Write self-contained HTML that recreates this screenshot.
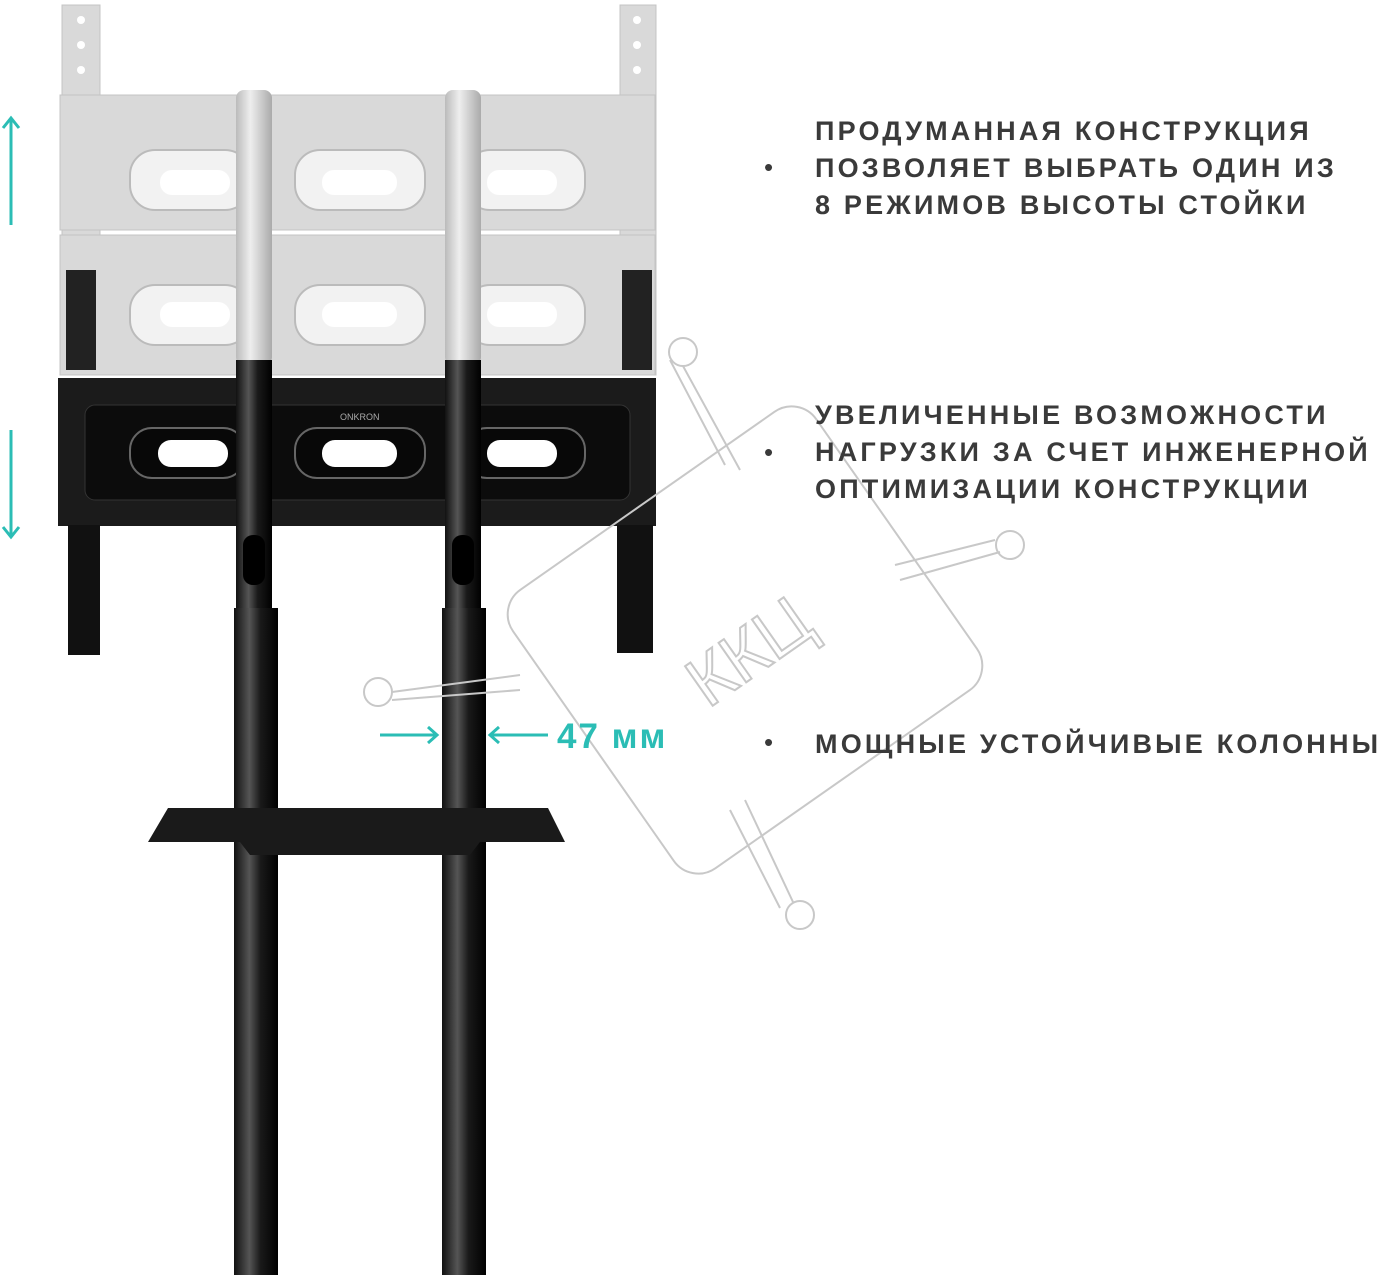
<!DOCTYPE html>
<html><head><meta charset="utf-8"><style>
body{margin:0;background:#fff;width:1388px;height:1275px;overflow:hidden;font-family:"Liberation Sans",sans-serif}
.t{position:absolute;left:815px;font-size:27px;letter-spacing:3.2px;color:#3a3a3a;line-height:37px;font-weight:bold;white-space:nowrap}
.b{position:absolute;left:764px;font-size:26px;color:#3a3a3a}
</style></head><body>
<svg width="1388" height="1275" style="position:absolute;left:0;top:0">
<defs>
<linearGradient id="pb" x1="0" x2="1"><stop offset="0" stop-color="#111"/><stop offset=".35" stop-color="#555"/><stop offset=".6" stop-color="#1a1a1a"/><stop offset="1" stop-color="#000"/></linearGradient>
<linearGradient id="pg" x1="0" x2="1"><stop offset="0" stop-color="#bbb"/><stop offset=".4" stop-color="#eee"/><stop offset="1" stop-color="#aaa"/></linearGradient>
</defs>
<g fill="#d9d9d9" stroke="#c4c4c4">
<rect x="62" y="5" width="38" height="370"/><rect x="620" y="5" width="36" height="370"/>
<rect x="60" y="95" width="595" height="135"/><rect x="60" y="235" width="595" height="140"/>
</g>
<g fill="#fff"><circle cx="81" cy="20" r="4"/><circle cx="81" cy="45" r="4"/><circle cx="81" cy="70" r="4"/><circle cx="637" cy="20" r="4"/><circle cx="637" cy="45" r="4"/><circle cx="637" cy="70" r="4"/></g>
<g fill="#f2f2f2" stroke="#bbb" stroke-width="2">
<rect x="130" y="150" width="120" height="60" rx="25"/><rect x="295" y="150" width="130" height="60" rx="25"/><rect x="465" y="150" width="120" height="60" rx="25"/>
<rect x="130" y="285" width="120" height="60" rx="25"/><rect x="295" y="285" width="130" height="60" rx="25"/><rect x="465" y="285" width="120" height="60" rx="25"/>
</g>
<g fill="#fff"><rect x="160" y="170" width="70" height="25" rx="12"/><rect x="322" y="170" width="75" height="25" rx="12"/><rect x="487" y="170" width="70" height="25" rx="12"/>
<rect x="160" y="302" width="70" height="25" rx="12"/><rect x="322" y="302" width="75" height="25" rx="12"/><rect x="487" y="302" width="70" height="25" rx="12"/></g>
<rect x="66" y="270" width="30" height="100" fill="#222"/><rect x="622" y="270" width="30" height="100" fill="#222"/>
<rect x="58" y="378" width="598" height="148" fill="#1b1b1b"/>
<rect x="85" y="405" width="545" height="95" rx="10" fill="#0c0c0c" stroke="#333"/>
<g fill="#080808" stroke="#666" stroke-width="2"><rect x="130" y="428" width="115" height="50" rx="22"/><rect x="295" y="428" width="130" height="50" rx="22"/><rect x="465" y="428" width="120" height="50" rx="22"/></g>
<g fill="#fff"><rect x="158" y="440" width="70" height="27" rx="13"/><rect x="322" y="440" width="75" height="27" rx="13"/><rect x="487" y="440" width="70" height="27" rx="13"/></g>
<text x="340" y="420" font-size="9" fill="#aaa" font-family="Liberation Sans">ONKRON</text>
<rect x="68" y="525" width="32" height="130" fill="#111"/><rect x="617" y="525" width="36" height="128" fill="#111"/>
<rect x="236" y="90" width="36" height="275" rx="8" fill="url(#pg)"/><rect x="445" y="90" width="36" height="275" rx="8" fill="url(#pg)"/>
<rect x="236" y="360" width="36" height="250" fill="url(#pb)"/><rect x="445" y="360" width="36" height="250" fill="url(#pb)"/>
<rect x="243" y="535" width="22" height="50" rx="10" fill="#000"/><rect x="452" y="535" width="22" height="50" rx="10" fill="#000"/>
<rect x="234" y="608" width="44" height="667" fill="url(#pb)"/><rect x="442" y="608" width="44" height="667" fill="url(#pb)"/>
<path d="M168 808 L548 808 L565 842 L480 842 L470 855 L250 855 L240 842 L148 842 Z" fill="#1a1a1a"/>
<g fill="none" stroke="#c8c8c8" stroke-width="2">
<rect x="560" y="470" width="370" height="340" rx="30" transform="rotate(-35 745 640)"/>
<circle cx="683" cy="352" r="14"/><circle cx="1010" cy="545" r="14"/><circle cx="378" cy="692" r="14"/><circle cx="800" cy="915" r="14"/>
<path d="M683 366 L740 470 M670 360 L725 465 M1000 552 L900 580 M995 540 L895 565 M392 692 L520 675 M392 700 L520 690 M793 902 L745 800 M780 908 L730 810"/>
<text x="680" y="680" font-size="70" transform="rotate(-35 740 650)" stroke="#c8c8c8" fill="none" font-family="Liberation Sans">ККЦ</text>
</g>
<g stroke="#2bbdb5" stroke-width="3" fill="none">
<path d="M11 118 V225 M3 128 L11 118 L19 128"/>
<path d="M11 430 V537 M3 527 L11 537 L19 527"/>
<path d="M380 735 H437 M428 727 L437 735 L428 743"/>
<path d="M490 735 H548 M499 727 L490 735 L499 743"/>
</g>
<text x="557" y="748" font-size="35" font-weight="bold" fill="#2bbdb5" letter-spacing="2" font-family="Liberation Sans">47 мм</text>
</svg>
<div class="t" style="top:113px">ПРОДУМАННАЯ КОНСТРУКЦИЯ<br>ПОЗВОЛЯЕТ ВЫБРАТЬ ОДИН ИЗ<br>8 РЕЖИМОВ ВЫСОТЫ СТОЙКИ</div>
<div class="b" style="top:152px">•</div>
<div class="t" style="top:397px">УВЕЛИЧЕННЫЕ ВОЗМОЖНОСТИ<br>НАГРУЗКИ ЗА СЧЕТ ИНЖЕНЕРНОЙ<br>ОПТИМИЗАЦИИ КОНСТРУКЦИИ</div>
<div class="b" style="top:437px">•</div>
<div class="t" style="top:726px">МОЩНЫЕ УСТОЙЧИВЫЕ КОЛОННЫ</div>
<div class="b" style="top:727px">•</div>
</body></html>
